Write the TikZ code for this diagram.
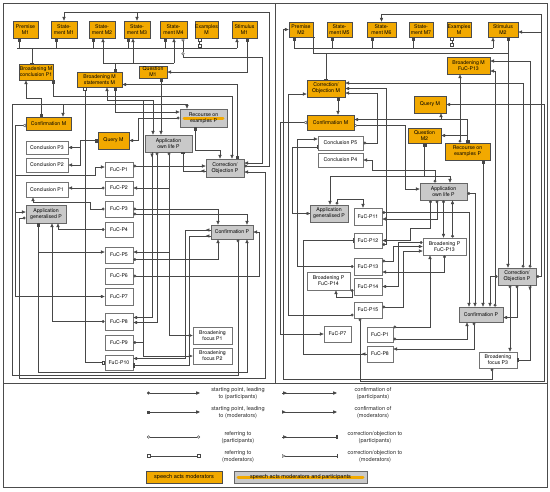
\documentclass[tikz,border=0pt]{standalone}
\usepackage{fontspec}
\setmainfont{TeX Gyre Heros}
\usetikzlibrary{arrows.meta,decorations.markings}
\definecolor{orM}{HTML}{F2A900}
\definecolor{grP}{HTML}{C9C9C9}
\newcommand{\bxn}[7]{\node[#1, minimum width={(#4-#2)*1pt}, minimum height={(#5-#3)*1pt}] (#6) at ({(#2+#4)/2},{(#3+#5)/2}) {#7};}
\tikzset{
  Mtri/.tip={Triangle[length=3.8pt,width=3.2pt]},
  Mdot/.tip={Circle[length=3pt]},
  Msq/.tip={Square[length=3pt]},
  Moc/.tip={Circle[open,length=3.1pt]},
  Mos/.tip={Square[open,length=3.1pt]},
  Mbar/.tip={Bar[width=4.4pt]},
  Mbb/.tip={Bar[width=4.4pt] Bar[width=4.4pt]},
  Motr/.tip={Triangle[open,reversed,length=3.6pt,width=3.4pt]},
  cn/.style={draw=black!72, line width=0.45pt},
  ar/.style={cn,-{Mtri}},
  pa/.style={cn,{Mdot}-{Mtri}},
  ma/.style={cn,{Msq}-{Mtri}},
  pr/.style={cn,{Moc}-{Moc}},
  mr/.style={cn,{Mos}-{Mos}},
  midtri/.style={postaction={decorate,decoration={markings,mark=at position 5pt with {\arrow{Mtri}}}}},
  pc/.style={cn,-{Mtri},midtri},
  mc/.style={cn,{Motr}-{Mtri}},
  pk/.style={cn,-{Mbb},midtri},
  mk/.style={cn,{Motr}-{Mbar}},
  bx/.style={inner sep=0pt, align=center, font=\fontsize{5.2}{6}\selectfont, line width=0.7pt},
  om/.style={bx, fill=orM, draw=black!70},
  gp/.style={bx, fill=grP, draw=black!60},
  wp/.style={bx, fill=white, draw=black!55},
  gs/.style={gp, path picture={\draw[orM, line width=3pt, line cap=round] ([xshift=4pt]path picture bounding box.west) -- ([xshift=-4pt]path picture bounding box.east);}},
  lg/.style={inner sep=0pt, align=center, font=\fontsize{5.6}{6.8}\selectfont, text=black!85},
}
\begin{document}
\begin{tikzpicture}[x=1pt,y=-1pt]
\useasboundingbox (0,0) rectangle (550,491);
\draw[black!70, line width=0.8pt] (3,3) rectangle (547,487);
\draw[black!70, line width=0.8pt] (275,3) -- (275,383);
\draw[black!70, line width=0.8pt] (3,383) -- (547,383);

% ================= LEFT PANEL NODES
\bxn{om}{13}{21}{38}{38}{pm1}{Premise\\M1}
\bxn{om}{51}{21}{77}{38}{sm1}{State-\\ment M1}
\bxn{om}{89}{21}{115}{38}{sm2}{State-\\ment M2}
\bxn{om}{124}{21}{150}{38}{sm3}{State-\\ment M3}
\bxn{om}{160}{21}{187}{38}{sm4}{State-\\ment M4}
\bxn{om}{195}{21}{218}{38}{exm1}{Examples\\M}
\bxn{om}{232}{21}{257}{38}{stm1}{Stimulus\\M1}
\bxn{om}{19}{64}{53}{80}{bmc}{Broadening M\\conclusion P1}
\bxn{om}{77}{72}{122}{87}{bms}{Broadening M\\statements M}
\bxn{om}{139}{66}{167}{78}{qm1}{Question\\M1}
\bxn{gs}{180}{109}{227}{127}{rex1}{Recourse on\\examples P}
\bxn{om}{26}{117}{71}{130}{cm1}{Confirmation M}
\bxn{om}{98}{132}{129}{149}{qry1}{Query M}
\bxn{gp}{145}{135}{192}{152}{aol1}{Application\\own life P}
\bxn{wp}{26}{141}{68}{154}{cp3}{Conclusion P3}
\bxn{wp}{26}{158}{68}{172}{cp2}{Conclusion P2}
\bxn{wp}{105}{162}{133}{177}{f1}{FuC-P1}
\bxn{gp}{206}{159}{244}{177}{cop1}{Correction/\\Objection P}
\bxn{wp}{26}{182}{68}{197}{cp1}{Conclusion P1}
\bxn{wp}{105}{181}{133}{195}{f2}{FuC-P2}
\bxn{gp}{26}{205}{66}{223}{agp1}{Application\\generalised P}
\bxn{wp}{105}{201}{133}{217}{f3}{FuC-P3}
\bxn{wp}{105}{222}{133}{237}{f4}{FuC-P4}
\bxn{gp}{211}{225}{253}{239}{confp1}{Confirmation P}
\bxn{wp}{105}{247}{133}{263}{f5}{FuC-P5}
\bxn{wp}{105}{268}{133}{284}{f6}{FuC-P6}
\bxn{wp}{105}{288}{133}{305}{f7}{FuC-P7}
\bxn{wp}{105}{313}{133}{330}{f8}{FuC-P8}
\bxn{wp}{105}{335}{133}{350}{f9}{FuC-P9}
\bxn{wp}{105}{355}{133}{370}{f10}{FuC-P10}
\bxn{wp}{193}{327}{232}{344}{bf1}{Broadening\\focus P1}
\bxn{wp}{193}{348}{232}{364}{bf2}{Broadening\\focus P2}

% ================= LEFT PANEL CONNECTORS
\draw[pa] ([yshift=2pt]cop1.east) -| (269,12) -| (sm1.north);
\draw[ar] (137,12) -- (sm3.north);
\draw[cn] (17,48) -- (237,48);
\foreach \n/\s in {pm1/-6.5,sm1/-8,sm2/-9,sm3/-9,sm4/-8.5}{\draw[cn,{Msq}-] ([xshift=\s pt]\n.south) -- ++(0,10);}
\draw[ar] (237,48) -- ([xshift=-7.5pt]stm1.south);
\draw[cn,-{Mbb}] (32,48) -- ([xshift=-4pt]bmc.north);
\draw[mr] ([xshift=-7pt]exm1.south) -- ++(0,9);
\draw[cn,{Msq}-] ([xshift=15.5pt]bms.north) -- (115,63);
\draw[cn] (103,63) -- (174,63);
\draw[ar] (103,63) -- ([xshift=1pt]sm2.south);
\draw[ar] (133,63) -- ([xshift=-4pt]sm3.south);
\draw[ar] (174,63) -- ([xshift=0.5pt]sm4.south);
\draw[pr] ([xshift=9.5pt]sm4.south) -- ++(0,17);
\draw[ar] (183,55) -- (183,57) -- (262,57) |- ([yshift=5pt]cop1.east);
\draw[ma] ([xshift=2.5pt]stm1.south) |- (qm1.east);
\draw[ma] ([xshift=8pt]qm1.south) -- ([xshift=-7.5pt]aol1.north);
\draw[ma] ([xshift=-7.5pt]cm1.north) -- (41,98) -- (26,98) -- ([xshift=-10pt]bmc.south);
\draw[ma] ([xshift=17pt]bmc.south) |- (232,96) -- ([xshift=7pt]cop1.north);
\draw[pa] ([xshift=6pt]confp1.south) |- (12,375) |- (187,104) -- ([xshift=-16.5pt]rex1.north);
\draw[ar] (63,104) -- ([xshift=14.5pt]cm1.north);
\draw[mr] ([xshift=-14.5pt]bms.south) |- (f10.west);
\draw[pa] (f9.east) -| (143,100) -| ([xshift=7.5pt]bms.south);
\draw[ar] (143,100) -| ([xshift=-15.5pt]aol1.north);
\draw[ar] (143,342.5) -- (143,356) -- (bf2.west);
\draw[ma] (qry1.west) -| (80,165) -- (cp2.east);
\draw[ar] (80,147.5) -- (cp3.east);
\draw[pa] (rex1.west) -| (138,140.5) -- (qry1.east);
\draw[pa] ([yshift=3.5pt]f1.east) -- ([yshift=2pt]cop1.west);
\draw[pa] ([xshift=0.5pt]aol1.south) |- (bf1.west);
\draw[ar] (169,188) -- (f2.east);
\draw[ar] (169,252) -- ([yshift=3pt]f5.east);
\draw[pk] ([yshift=-3pt]cop1.west) -| ([xshift=14.5pt]aol1.south);
\draw[ma] ([xshift=12pt]cop1.north) |- ([yshift=-5pt]bms.east);
\draw[pa] (f2.west) -- (f2.west -| cp1.east);
\draw[pa] (f3.west) -| (90,202) -| ([xshift=-14pt]cp1.south);
\draw[pa] (f4.west) -| ([xshift=12pt]agp1.south);
\draw[pa] (f8.west) -| ([xshift=6pt]agp1.south);
\draw[ma] ([xshift=-8pt]agp1.south) |- ([yshift=3pt]f5.west);
\draw[ar] (38,252) -- (38,372) -| ([xshift=15pt]confp1.south);
\draw[pa] ([yshift=-4.5pt]f5.east) -| ([xshift=-14pt]confp1.south);
\draw[ma] ([xshift=-8.5pt]rex1.south) |- (220,150) -- ([xshift=-5pt]cop1.north);
\draw[ma] ([xshift=15.5pt]bms.south) |- ([yshift=6pt]rex1.west);
\draw[pa] (f6.east) -| (259,232) -- (confp1.east);
\draw[mc] ([yshift=-2pt]cm1.west) -| (15,296.5) -- (f7.west);
\draw[ar] (15,212) -- ([yshift=2pt]agp1.west);
\draw[ar] (15,175) -| (95,167) -- ([yshift=2.5pt]f1.west);
\draw[pa] ([yshift=-4pt]agp1.west) -| (19,378) -| (265,172) -- ([yshift=-4pt]cop1.east);
\draw[pc] ([yshift=2pt]confp1.west) -| (185,358.5) -- ([yshift=4pt]f10.east);
\draw[pk] ([yshift=-4pt]confp1.west) -| (189,365.5) -- ([yshift=-3pt]f10.east);
\draw[pc] ([xshift=-16.5pt]aol1.south) |- ([yshift=4pt]f8.east);
\draw[pa] ([xshift=-11.5pt]aol1.south) |- ([yshift=-1pt]f8.east);
\draw[pa] (f3.east) -| ([xshift=-14pt]confp1.north);
\draw[pa] ([yshift=-5pt]f3.east) -| ([xshift=15pt]confp1.north);

% ================= RIGHT PANEL NODES
\bxn{om}{289}{22}{313}{37}{pm2}{Premise\\M2}
\bxn{om}{327}{22}{352}{37}{sm5}{State-\\ment M5}
\bxn{om}{367}{22}{396}{37}{sm6}{State-\\ment M6}
\bxn{om}{409}{22}{433}{37}{sm7}{State-\\ment M7}
\bxn{om}{447}{22}{471}{37}{exm2}{Examples\\M}
\bxn{om}{488}{22}{518}{37}{stm2}{Stimulus\\M2}
\bxn{om}{447}{57}{490}{74}{bmf}{Broadening M\\FuC-P13}
\bxn{om}{307}{80}{345}{97}{com}{Correction/\\Objection M}
\bxn{om}{414}{96}{446}{113}{qry2}{Query M}
\bxn{om}{307}{115}{354}{130}{cm2}{Confirmation M}
\bxn{om}{408}{128}{441}{143}{qm2}{Question\\M2}
\bxn{om}{445}{143}{490}{160}{rex2}{Recourse on\\examples P}
\bxn{wp}{318}{136}{363}{150}{cp5}{Conclusion P5}
\bxn{wp}{318}{153}{363}{167}{cp4}{Conclusion P4}
\bxn{gp}{420}{183}{467}{200}{aol2}{Application\\own life P}
\bxn{gp}{310}{205}{348}{222}{agp2}{Application\\generalised P}
\bxn{wp}{354}{208}{382}{225}{f11}{FuC-P11}
\bxn{wp}{354}{233}{382}{248}{f12}{FuC-P12}
\bxn{wp}{423}{238}{466}{255}{bpf13}{Broadening P\\FuC-P13}
\bxn{wp}{354}{258}{382}{275}{f13}{FuC-P13}
\bxn{wp}{307}{272}{350}{290}{bpf14}{Broadening P\\FuC-P14}
\bxn{wp}{354}{278}{382}{295}{f14}{FuC-P14}
\bxn{wp}{354}{302}{382}{318}{f15}{FuC-P15}
\bxn{gp}{498}{268}{536}{285}{cop2}{Correction/\\Objection P}
\bxn{gp}{459}{307}{503}{322}{confp2}{Confirmation P}
\bxn{wp}{324}{326}{351}{342}{f7b}{FuC-P7}
\bxn{wp}{367}{327}{393}{342}{f1b}{FuC-P1}
\bxn{wp}{367}{346}{393}{362}{f8b}{FuC-P8}
\bxn{wp}{479}{352}{517}{368}{bf3}{Broadening\\focus P3}

% ================= RIGHT PANEL CONNECTORS
\draw[pa] (cop2.east) -| (541,14) -| (sm6.north);
\draw[ar] (541,32) -- ([yshift=-2.5pt]stm2.east);
\draw[cn] (294,48) -- (493,48);
\foreach \n/\s in {pm2/-7,sm5/-7.5,sm6/-9.5,sm7/-8}{\draw[cn,{Msq}-] ([xshift=\s pt]\n.south) -- ++(0,11);}
\draw[ar] (493,48) -- ([xshift=-10pt]stm2.south);
\draw[mr] ([xshift=-7pt]exm2.south) -- ++(0,9);
\draw[cn,{Msq}-{Mbar}] ([xshift=5pt]stm2.south) |- (313,53) -- ([xshift=12pt]pm2.south);
\draw[cn,-{Mbar}] (326,53) -- (com.north);
\draw[ar] (508,53) -- ([xshift=-9pt]cop2.north);
\draw[mc] (cm2.west) -| (280,334) -- (f7b.west);
\draw[pa] ([xshift=-6pt]bf3.south) |- (283,379) |- (pm2.west);
\draw[pa] ([yshift=-5pt]f15.west) -| (288,94) -- ([yshift=-5.5pt]com.west);
\draw[pk] (agp2.west) -| (292,147) -- ([yshift=-4pt]cp5.west);
\draw[pa] (f13.west) -| (297,139) -- ([yshift=4pt]cp5.west);
\draw[pk] (f8b.west) -| (303,240.5) -- (f12.west);
\draw[pa] ([xshift=-8pt]f15.south) |- (544,381) |- (qry2.east);
\draw[ma] ([xshift=12pt]com.south) -- ([xshift=7.5pt]cm2.north);
\draw[ma] (rex2.north) |- ([yshift=3pt]cm2.east);
\draw[ar] (467.5,135.5) -- (qm2.east);
\draw[ar] (441,119.5) -- ([xshift=11pt]qry2.south);
\draw[pa] ([xshift=-7.5pt]rex2.north) -- ([xshift=-8.5pt]bmf.south);
\draw[pa] ([xshift=13pt]cop2.north) |- ([yshift=4.5pt]bmf.east);
\draw[pa] ([xshift=14pt]confp2.north) |- ([yshift=-5.5pt]bmf.east);
\draw[pa] ([xshift=6pt]cop2.north) |- ([yshift=5.5pt]com.east);
\draw[pa] ([yshift=-4pt]f12.east) -| (386,88.5) -- (com.east);
\draw[pa] (cp5.east) -| (377,93) -- ([yshift=-4.5pt]com.east);
\draw[ma] (qm2.south) |- (450,176) -- ([xshift=6.5pt]aol2.north);
\draw[ar] (424.5,176) -| ([xshift=1pt]agp2.north);
\draw[pa] ([xshift=-8.5pt]aol2.north) |- (372,170) |- (cp4.east);
\draw[mc] ([yshift=-3pt]cm2.east) -| (405,189) -- ([yshift=2.5pt]aol2.west);
\draw[pa] ([xshift=8pt]agp2.north) |- (363,199) -- ([xshift=-5pt]f11.north);
\draw[pa] ([xshift=-6.5pt]aol2.south) |- ([yshift=-2.5pt]f11.east);
\draw[pa] ([xshift=-13pt]aol2.south) |- (410,228) |- (f12.east);
\draw[pa] (aol2.south) -- (aol2.south |- bpf13.north);
\draw[pa] ([xshift=8pt]bpf13.north) -- ([xshift=9pt]aol2.south);
\draw[pa] ([yshift=4pt]f11.east) -| ([xshift=-12pt]confp2.north);
\draw[pa] ([yshift=-2pt]aol2.east) -| ([xshift=-6pt]confp2.north);
\draw[ma] ([xshift=15.5pt]rex2.south) -- ([xshift=2pt]confp2.north);
\draw[pa] (cop2.west) -| ([xshift=9pt]confp2.north);
\draw[pa] (cop2.south) |- ([yshift=-3pt]confp2.east);
\draw[pa] ([xshift=-7pt]cop2.south) -- ([xshift=12pt]bf3.north);
\draw[pk] ([xshift=13pt]cop2.south) |- (bf3.east);
\draw[pa] ([xshift=-7pt]confp2.south) |- ([yshift=5pt]f8b.east);
\draw[pa] ([yshift=-4.5pt]f1b.east) -| ([xshift=-14pt]confp2.south);
\draw[pa] ([yshift=7.5pt]f1b.east) -| ([xshift=-14.5pt]bpf13.south);
\draw[pa] (bpf13.south) |- ([yshift=-5.5pt]f13.east);
\draw[pa] ([yshift=5.5pt]f13.east) -| (393,246.5) -- (bpf13.west);
\draw[pa] ([yshift=4pt]bpf13.west) -| (398,286.5) -- (f14.east);
\draw[pa] ([yshift=3pt]f15.east) -| (403,251) -- ([yshift=-4.5pt]bpf13.west);
\draw[pa] ([yshift=-4pt]f14.west) -| (352,297) -| ([xshift=7.5pt]bpf14.south);

% ================= LEGEND
\draw[pa, line width=0.9pt] (147,393) -- (200,393);
\draw[ma, line width=0.9pt] (147,412) -- (200,412);
\draw[pr] (147,437) -- (200,437);
\draw[mr] (147,456) -- (200,456);
\node[lg] (lt1) at (238,393.5) {starting point, leading\\to (participants)};
\node[lg] (lt2) at (238,412.5) {starting point, leading\\to (moderators)};
\node[lg] (lt3) at (238,437.5) {referring to\\(participants)};
\node[lg] (lt4) at (238,456.5) {referring to\\(moderators)};
\draw[pc, line width=0.9pt] (282,393) -- (337,393);
\draw[mc, line width=0.9pt] (282,412) -- (337,412);
\draw[pk] (282,437) -- (337,437);
\draw[mk] (282,456) -- (337,456);
\node[lg] (lt5) at (373,393.5) {confirmation of\\(participants)};
\node[lg] (lt6) at (373,412.5) {confirmation of\\(moderators)};
\node[lg] (lt7) at (375,437.5) {correction/objection to\\(participants)};
\node[lg] (lt8) at (375,456.5) {correction/objection to\\(moderators)};
\bxn{om,font=\fontsize{5.6}{6.8}\selectfont}{146}{471}{222}{483}{lgm}{speech acts moderators}
\bxn{gs,font=\fontsize{5.6}{6.8}\selectfont}{234}{471}{367}{483}{lgp}{speech acts moderators and participants}
\end{tikzpicture}
\end{document}
